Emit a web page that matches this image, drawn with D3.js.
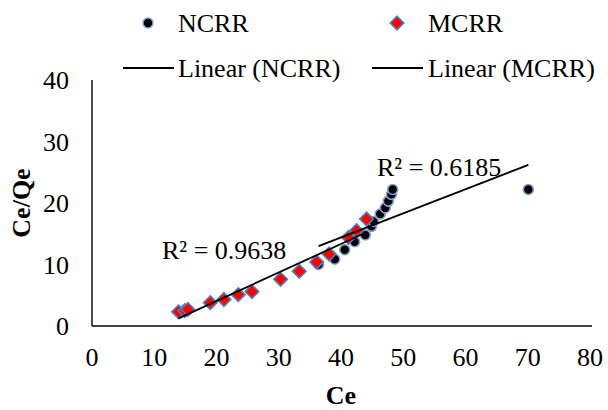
<!DOCTYPE html>
<html>
<head>
<meta charset="utf-8">
<script src="https://cdn.jsdelivr.net/npm/d3@7"></script>
<style>
  html, body { margin: 0; padding: 0; background: #fff; }
  svg { display: block; }
  svg text { font-family: "Liberation Serif", "Times New Roman", serif; }
</style>
</head>
<body>
<div id="chart"></div>
<script>
// --- Data ---
const ncrrCe   = [36.4, 39.0, 40.6, 42.2, 43.9, 44.9, 45.2, 46.3, 47.1, 47.6, 48.1, 48.3, 70.1];
const ncrrCeQe = [10.0, 10.85, 12.4, 13.7, 14.8, 16.2, 17.0, 18.2, 19.2, 20.3, 21.4, 22.2, 22.2];

const mcrrCe   = [13.9, 14.9, 15.4, 19.0, 21.2, 23.5, 25.7, 30.3, 33.3, 36.1, 38.1, 41.2, 42.5, 44.1];
const mcrrCeQe = [2.3, 2.5, 2.7, 3.8, 4.3, 5.1, 5.6, 7.6, 8.9, 10.4, 11.7, 14.4, 15.5, 17.4];

const xTicks = [0, 10, 20, 30, 40, 50, 60, 70, 80];
const yTicks = [0, 10, 20, 30, 40];

const r2Labels = ['R² = 0.6185', 'R² = 0.9638'];

(function () {
  'use strict';

  const W = 608, H = 410;
  const FONT = 26;
  const SERIF = '"Liberation Serif", "Times New Roman", serif';
  const C = {
    circleStroke: '#86a3d3',
    diamondFill: '#ff0000',
    diamondStroke: '#4f7fbf',
  };

  const svg = d3.select('#chart').append('svg')
    .attr('width', W).attr('height', H)
    .attr('font-family', SERIF);

  const x = d3.scaleLinear().domain([0, 80]).range([92, 590]);
  const y = d3.scaleLinear().domain([0, 40]).range([326, 80]);

  // least squares fit, like Excel's linear trendline
  function fit(xs, ys) {
    const mx = d3.mean(xs), my = d3.mean(ys);
    let sxy = 0, sxx = 0;
    xs.forEach((v, i) => { sxy += (v - mx) * (ys[i] - my); sxx += (v - mx) * (v - mx); });
    const slope = sxy / sxx;
    return { slope, intercept: my - slope * mx, x0: d3.min(xs), x1: d3.max(xs) };
  }

  // axes (no ticks, only lines + labels)
  svg.append('line')
    .attr('x1', x(0)).attr('x2', x(80) + 2)
    .attr('y1', y(0)).attr('y2', y(0))
    .attr('stroke', '#000').attr('stroke-width', 1.4);
  svg.append('line')
    .attr('x1', x(0)).attr('x2', x(0))
    .attr('y1', y(0)).attr('y2', y(40))
    .attr('stroke', '#000').attr('stroke-width', 1.4);

  svg.append('g').selectAll('text').data(xTicks).join('text')
    .attr('x', d => x(d)).attr('y', 366)
    .attr('text-anchor', 'middle')
    .attr('font-family', SERIF)
    .attr('font-size', FONT)
    .text(d => d);

  svg.append('g').selectAll('text').data(yTicks).join('text')
    .attr('x', 69).attr('y', d => y(d) + 9)
    .attr('text-anchor', 'end')
    .attr('font-family', SERIF)
    .attr('font-size', FONT)
    .text(d => d);

  // axis titles
  svg.append('text')
    .attr('x', (x(0) + x(80)) / 2).attr('y', 404)
    .attr('text-anchor', 'middle')
    .attr('font-family', SERIF)
    .attr('font-size', FONT).attr('font-weight', 'bold')
    .text('Ce');

  svg.append('text')
    .attr('transform', `translate(30,${(y(0) + y(40)) / 2}) rotate(-90)`)
    .attr('text-anchor', 'middle')
    .attr('font-family', SERIF)
    .attr('font-size', FONT).attr('font-weight', 'bold')
    .text('Ce/Qe');

  const diamond = d3.symbol().type(d3.symbolDiamond2).size(118);

  // NCRR points
  svg.append('g').selectAll('circle').data(ncrrCe).join('circle')
    .attr('cx', d => x(d)).attr('cy', (d, i) => y(ncrrCeQe[i]))
    .attr('r', 5)
    .attr('fill', '#000')
    .attr('stroke', C.circleStroke).attr('stroke-width', 1.6);

  // MCRR points
  svg.append('g').selectAll('path').data(mcrrCe).join('path')
    .attr('d', diamond)
    .attr('transform', (d, i) => `translate(${x(d)},${y(mcrrCeQe[i])})`)
    .attr('fill', C.diamondFill)
    .attr('stroke', C.diamondStroke).attr('stroke-width', 1.6);

  // trendlines
  [fit(ncrrCe, ncrrCeQe), fit(mcrrCe, mcrrCeQe)].forEach(f => {
    svg.append('line')
      .attr('x1', x(f.x0)).attr('y1', y(f.slope * f.x0 + f.intercept))
      .attr('x2', x(f.x1)).attr('y2', y(f.slope * f.x1 + f.intercept))
      .attr('stroke', '#000').attr('stroke-width', 1.8);
  });

  // R² labels
  svg.append('text').attr('x', 377).attr('y', 176)
    .attr('font-family', SERIF)
    .attr('font-size', FONT).text(r2Labels[0]);
  svg.append('text').attr('x', 162).attr('y', 259)
    .attr('font-family', SERIF)
    .attr('font-size', FONT).text(r2Labels[1]);

  // legend
  const lg = svg.append('g').attr('font-family', SERIF).attr('font-size', FONT);
  lg.append('circle')
    .attr('cx', 148).attr('cy', 23).attr('r', 5)
    .attr('fill', '#000')
    .attr('stroke', C.circleStroke).attr('stroke-width', 1.6);
  lg.append('text').attr('x', 178).attr('y', 32).text('NCRR');

  lg.append('path')
    .attr('d', diamond)
    .attr('transform', 'translate(397,23)')
    .attr('fill', C.diamondFill)
    .attr('stroke', C.diamondStroke).attr('stroke-width', 1.6);
  lg.append('text').attr('x', 428).attr('y', 32).text('MCRR');

  lg.append('line').attr('x1', 123).attr('x2', 174).attr('y1', 68).attr('y2', 68)
    .attr('stroke', '#000').attr('stroke-width', 1.8);
  lg.append('text').attr('x', 178).attr('y', 77).text('Linear (NCRR)');

  lg.append('line').attr('x1', 372).attr('x2', 423).attr('y1', 68).attr('y2', 68)
    .attr('stroke', '#000').attr('stroke-width', 1.8);
  lg.append('text').attr('x', 428).attr('y', 77).text('Linear (MCRR)');
})();
</script>
</body>
</html>
